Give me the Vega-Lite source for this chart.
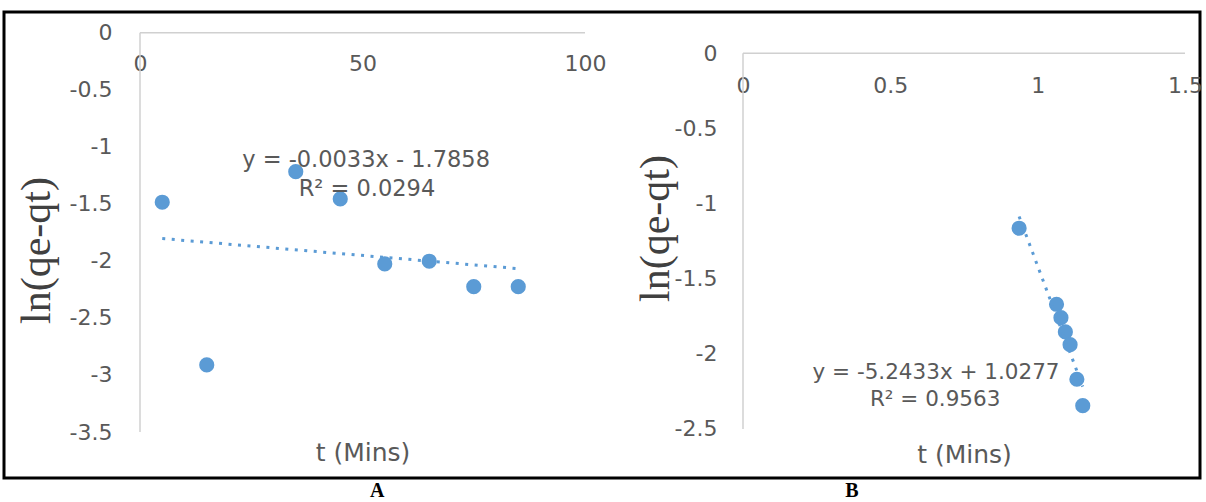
{
  "$schema": "https://vega.github.io/schema/vega-lite/v6.json",
  "width": 1196,
  "height": 466,
  "autosize": {"type": "none"},
  "padding": {"left": 4, "top": 12, "right": 6, "bottom": 24},
  "background": "white",
  "config": {
    "view": {"stroke": "black", "strokeWidth": 3},
    "axis": {
      "grid": false, "domain": false, "ticks": false,
      "labelFont": "DejaVu Sans", "labelFontSize": 22, "labelColor": "#595959",
      "labelOverlap": false, "labelFlush": false, "labelBaseline": "middle",
      "labelExpr": "'' + datum.value",
      "titleFontWeight": "normal"
    }
  },
  "datasets": {
    "A": [
      {"t": 5, "lnq": -1.486},
      {"t": 15, "lnq": -2.912},
      {"t": 35, "lnq": -1.218},
      {"t": 45, "lnq": -1.457},
      {"t": 55, "lnq": -2.027},
      {"t": 65, "lnq": -2.003},
      {"t": 75, "lnq": -2.226},
      {"t": 85, "lnq": -2.226}
    ],
    "B": [
      {"t": 0.937, "lnq": -1.164},
      {"t": 1.064, "lnq": -1.670},
      {"t": 1.079, "lnq": -1.759},
      {"t": 1.094, "lnq": -1.854},
      {"t": 1.110, "lnq": -1.939},
      {"t": 1.133, "lnq": -2.169},
      {"t": 1.153, "lnq": -2.345}
    ]
  },
  "layer": [
    {
      "layer": [
        {
          "data": {"values": [{}]},
          "mark": {"type": "rule", "color": "#D0D0D0", "strokeWidth": 1.5},
          "encoding": {
            "x": {"datum": 0, "type": "quantitative", "scale": {"domain": [-30.562, 238.202], "nice": false, "zero": false}},
            "x2": {"datum": 100},
            "y": {"datum": 0, "type": "quantitative", "scale": {"domain": [-3.9032, 0.18144], "nice": false, "zero": false}}
          }
        },
        {
          "data": {"values": [{}]},
          "mark": {"type": "rule", "color": "#D0D0D0", "strokeWidth": 1.5},
          "encoding": {
            "x": {"datum": 0, "type": "quantitative", "scale": {"domain": [-30.562, 238.202], "nice": false, "zero": false}},
            "y": {"datum": 0, "type": "quantitative", "scale": {"domain": [-3.9032, 0.18144], "nice": false, "zero": false}},
            "y2": {"datum": -3.5}
          }
        },
        {
          "data": {"name": "A"},
          "mark": {"type": "circle", "color": "#5B9BD5", "opacity": 1, "size": 230},
          "encoding": {
            "x": {
              "field": "t", "type": "quantitative",
              "scale": {"domain": [-30.562, 238.202], "nice": false, "zero": false},
              "axis": {
                "orient": "top", "offset": -20.7, "values": [0, 50, 100],
                "labelPadding": -31,
                "title": "t (Mins)", "titleFont": "DejaVu Sans", "titleFontSize": 25, "titleColor": "#595959",
                "titleX": 358.5, "titleY": 427.3, "titleBaseline": "alphabetic", "titleAlign": "center", "titleAngle": 0
              }
            },
            "y": {
              "field": "lnq", "type": "quantitative",
              "scale": {"domain": [-3.9032, 0.18144], "nice": false, "zero": false},
              "axis": {
                "orient": "left", "offset": -136, "values": [0, -0.5, -1, -1.5, -2, -2.5, -3, -3.5],
                "labelPadding": 28, "labelAlign": "right",
                "title": "ln(qe-qt)", "titleFont": "Liberation Serif", "titleFontSize": 42, "titleColor": "#404040",
                "titleAngle": 270, "titleX": -104, "titleY": 238, "titleBaseline": "middle", "titleAlign": "center"
              }
            }
          }
        },
        {
          "data": {"name": "A"},
          "transform": [{"regression": "lnq", "on": "t"}],
          "mark": {"type": "line", "color": "#5B9BD5", "strokeWidth": 3, "strokeDash": [3, 6.5], "strokeCap": "butt"},
          "encoding": {
            "x": {"field": "t", "type": "quantitative", "scale": {"domain": [-30.562, 238.202], "nice": false, "zero": false}},
            "y": {"field": "lnq", "type": "quantitative", "scale": {"domain": [-3.9032, 0.18144], "nice": false, "zero": false}}
          }
        },
        {
          "data": {"values": [{}]},
          "mark": {"type": "text", "font": "DejaVu Sans", "fontSize": 22.5, "color": "#595959", "align": "center", "baseline": "middle", "text": "y = -0.0033x - 1.7858"},
          "encoding": {
            "x": {"datum": 50.8, "type": "quantitative", "scale": {"domain": [-30.562, 238.202], "nice": false, "zero": false}},
            "y": {"datum": -1.116, "type": "quantitative", "scale": {"domain": [-3.9032, 0.18144], "nice": false, "zero": false}}
          }
        },
        {
          "data": {"values": [{}]},
          "mark": {"type": "text", "font": "DejaVu Sans", "fontSize": 22.5, "color": "#595959", "align": "center", "baseline": "middle", "text": "R² = 0.0294"},
          "encoding": {
            "x": {"datum": 51.0, "type": "quantitative", "scale": {"domain": [-30.562, 238.202], "nice": false, "zero": false}},
            "y": {"datum": -1.370, "type": "quantitative", "scale": {"domain": [-3.9032, 0.18144], "nice": false, "zero": false}}
          }
        },
        {
          "data": {"values": [{}]},
          "mark": {"type": "text", "font": "Liberation Serif", "fontSize": 20, "fontWeight": "bold", "color": "black", "align": "center", "baseline": "middle", "text": "A"},
          "encoding": {
            "x": {"datum": 53.3, "type": "quantitative", "scale": {"domain": [-30.562, 238.202], "nice": false, "zero": false}},
            "y": {"datum": -4.018, "type": "quantitative", "scale": {"domain": [-3.9032, 0.18144], "nice": false, "zero": false}}
          }
        }
      ]
    },
    {
      "layer": [
        {
          "data": {"values": [{}]},
          "mark": {"type": "rule", "color": "#D0D0D0", "strokeWidth": 1.5},
          "encoding": {
            "x": {"datum": 0, "type": "quantitative", "scale": {"domain": [-2.50792, 1.5509], "nice": false, "zero": false}},
            "x2": {"datum": 1.5},
            "y": {"datum": 0, "type": "quantitative", "scale": {"domain": [-2.82606, 0.27482], "nice": false, "zero": false}}
          }
        },
        {
          "data": {"values": [{}]},
          "mark": {"type": "rule", "color": "#D0D0D0", "strokeWidth": 1.5},
          "encoding": {
            "x": {"datum": 0, "type": "quantitative", "scale": {"domain": [-2.50792, 1.5509], "nice": false, "zero": false}},
            "y": {"datum": 0, "type": "quantitative", "scale": {"domain": [-2.82606, 0.27482], "nice": false, "zero": false}},
            "y2": {"datum": -2.5}
          }
        },
        {
          "data": {"name": "B"},
          "mark": {"type": "circle", "color": "#5B9BD5", "opacity": 1, "size": 230},
          "encoding": {
            "x": {
              "field": "t", "type": "quantitative",
              "scale": {"domain": [-2.50792, 1.5509], "nice": false, "zero": false},
              "axis": {
                "orient": "bottom", "offset": -424.7, "values": [0, 0.5, 1, 1.5],
                "labelPadding": 31.7,
                "title": "t (Mins)", "titleFont": "DejaVu Sans", "titleFontSize": 25, "titleColor": "#595959",
                "titleX": 960, "titleY": 408.7, "titleBaseline": "alphabetic", "titleAlign": "center", "titleAngle": 0
              }
            },
            "y": {
              "field": "lnq", "type": "quantitative",
              "scale": {"domain": [-2.82606, 0.27482], "nice": false, "zero": false},
              "axis": {
                "orient": "right", "offset": -457, "values": [0, -0.5, -1, -1.5, -2, -2.5],
                "labelPadding": -26, "labelAlign": "right",
                "title": "ln(qe-qt)", "titleFont": "Liberation Serif", "titleFontSize": 42, "titleColor": "#404040",
                "titleAngle": 270, "titleX": -88, "titleY": 216, "titleBaseline": "middle", "titleAlign": "center"
              }
            }
          }
        },
        {
          "data": {"name": "B"},
          "transform": [{"regression": "lnq", "on": "t"}],
          "mark": {"type": "line", "color": "#5B9BD5", "strokeWidth": 3, "strokeDash": [3, 6.5], "strokeCap": "butt"},
          "encoding": {
            "x": {"field": "t", "type": "quantitative", "scale": {"domain": [-2.50792, 1.5509], "nice": false, "zero": false}},
            "y": {"field": "lnq", "type": "quantitative", "scale": {"domain": [-2.82606, 0.27482], "nice": false, "zero": false}}
          }
        },
        {
          "data": {"values": [{}]},
          "mark": {"type": "text", "font": "DejaVu Sans", "fontSize": 21.5, "color": "#595959", "align": "center", "baseline": "middle", "text": "y = -5.2433x + 1.0277"},
          "encoding": {
            "x": {"datum": 0.655, "type": "quantitative", "scale": {"domain": [-2.50792, 1.5509], "nice": false, "zero": false}},
            "y": {"datum": -2.129, "type": "quantitative", "scale": {"domain": [-2.82606, 0.27482], "nice": false, "zero": false}}
          }
        },
        {
          "data": {"values": [{}]},
          "mark": {"type": "text", "font": "DejaVu Sans", "fontSize": 21.5, "color": "#595959", "align": "center", "baseline": "middle", "text": "R² = 0.9563"},
          "encoding": {
            "x": {"datum": 0.652, "type": "quantitative", "scale": {"domain": [-2.50792, 1.5509], "nice": false, "zero": false}},
            "y": {"datum": -2.307, "type": "quantitative", "scale": {"domain": [-2.82606, 0.27482], "nice": false, "zero": false}}
          }
        },
        {
          "data": {"values": [{}]},
          "mark": {"type": "text", "font": "Liberation Serif", "fontSize": 20, "fontWeight": "bold", "color": "black", "align": "center", "baseline": "middle", "text": "B"},
          "encoding": {
            "x": {"datum": 0.37, "type": "quantitative", "scale": {"domain": [-2.50792, 1.5509], "nice": false, "zero": false}},
            "y": {"datum": -2.913, "type": "quantitative", "scale": {"domain": [-2.82606, 0.27482], "nice": false, "zero": false}}
          }
        }
      ]
    }
  ],
  "resolve": {
    "scale": {"x": "independent", "y": "independent"},
    "axis": {"x": "independent", "y": "independent"}
  }
}
